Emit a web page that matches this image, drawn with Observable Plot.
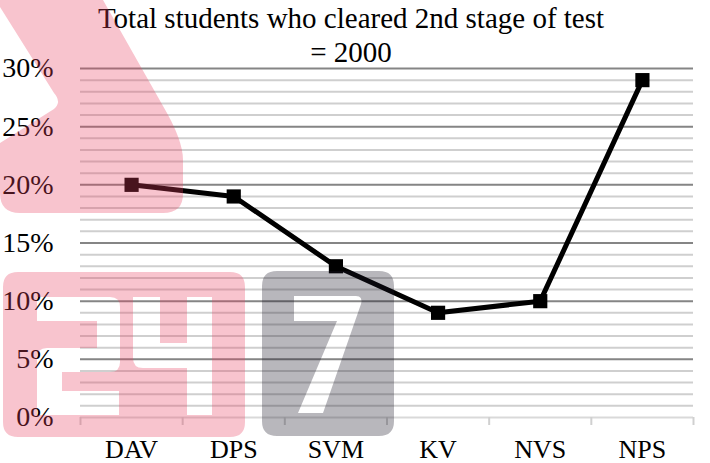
<!DOCTYPE html>
<html>
<head>
<meta charset="utf-8">
<script src="https://cdn.jsdelivr.net/npm/d3@7"></script>
<script src="https://cdn.jsdelivr.net/npm/@observablehq/plot@0.6"></script>
<style>
  html, body { margin: 0; padding: 0; background: #fff; }
  #wrap { position: relative; width: 710px; height: 463px; overflow: hidden; font-family: "Liberation Serif", serif; }
  #title { position: absolute; left: 0; top: 1px; width: 702px; text-align: center; font-size: 29px; line-height: 34px; color: #000; font-family: "Liberation Serif", serif; }
  #chart { position: absolute; left: 0; top: 0; }
  #wm { position: absolute; left: 0; top: 0; pointer-events: none; }
</style>
</head>
<body>
<div id="wrap">
  <div id="chart"></div>
  <div id="title">Total students who cleared 2nd stage of test<br>= 2000</div>
  <svg id="wm" width="710" height="463"></svg>
</div>
<script>
// ---- data ----
const categories = ["DAV", "DPS", "SVM", "KV", "NVS", "NPS"];
const values = [20, 19, 13, 9, 10, 29];           // percent
const yTicks = [0, 5, 10, 15, 20, 25, 30];          // labelled ticks
const minorTicks = d3.range(1, 30).filter(d => d % 5 !== 0); // 1% minor gridlines
const majorTicks = [5, 10, 15, 20, 25, 30];

const data = categories.map((c, i) => ({cat: c, idx: i + 0.5, value: values[i]}));

const chart = Plot.plot({
  width: 710,
  height: 463,
  marginTop: 68,
  marginBottom: 46,
  marginLeft: 80,
  marginRight: 17,
  style: {fontFamily: "Liberation Serif, serif", background: "transparent", color: "#000", overflow: "visible"},
  x: {domain: [0, categories.length], axis: null, label: null},
  y: {domain: [0, 30], axis: null, label: null},
  marks: [
    Plot.ruleY(minorTicks, {stroke: "#cfcfcf", strokeWidth: 2}),
    Plot.ruleY(majorTicks, {stroke: "#858585", strokeWidth: 2}),
    Plot.ruleY([0], {stroke: "#d9d9d9", strokeWidth: 2}),
    Plot.axisX({ticks: d3.range(0, categories.length + 1), tickSize: 8, tickFormat: () => "", label: null, stroke: "#d0d0d0", strokeWidth: 2}),
    Plot.axisX({ticks: data.map(d => d.idx), tickSize: 0, tickPadding: 22, label: null, tickFormat: (d) => categories[Math.round(d - 0.5)], fontSize: 26, fill: "#000"}),
    Plot.axisY({ticks: yTicks, tickSize: 0, tickPadding: 27, label: null, tickFormat: d => d + "%", fontSize: 28, fill: "#000"}),
    Plot.line(data, {x: "idx", y: "value", stroke: "#000", strokeWidth: 5, strokeLinejoin: "miter"}),
    Plot.dot(data, {x: "idx", y: "value", symbol: "square", r: 8, fill: "#000", stroke: "none"})
  ]
});
document.getElementById("chart").appendChild(chart);

// ---- decorative watermark overlay (not data) ----
const wm = d3.select("#wm");
const pink = "rgba(232,65,97,0.31)";
const grey = "rgba(26,23,39,0.31)";
// top-left pink blob
wm.append("path")
  .attr("d", "M0,0 L103,0 L163,106 Q183,140 183,160 L183,194 Q183,213 163,213 L20,213 Q0,213 0,193 L0,143 L54,109 Q62,102 54,93 L0,7 Z")
  .attr("fill", pink);
// "24" block with white digits cut out
wm.append("path")
  .attr("fill-rule", "evenodd")
  .attr("fill", pink)
  .attr("d",
    "M18,272 L230,272 Q245,272 245,287 L245,422 Q245,437 230,437 L18,437 Q3,437 3,422 L3,287 Q3,272 18,272 Z " +
    "M37,297 L110,297 Q120,297 120,307 L120,362 Q120,372 110,372 L62,372 L62,391 L119,391 L119,415 L37,415 L37,358 Q37,348 47,348 L97,348 L97,321 L37,321 Z " +
    "M133,297 L160,297 L160,343 L187,343 L187,297 L212,297 L212,415 L187,415 L187,368 L143,368 Q133,368 133,358 Z");
// "7" block
wm.append("path")
  .attr("fill-rule", "evenodd")
  .attr("fill", grey)
  .attr("d",
    "M277,271 L379,271 Q394,271 394,286 L394,421 Q394,436 379,436 L277,436 Q262,436 262,421 L262,286 Q262,271 277,271 Z " +
    "M294,296 L356,296 Q363,296 361,304 L323,413 L298,413 L337,321 L294,321 Z");
</script>
</body>
</html>
